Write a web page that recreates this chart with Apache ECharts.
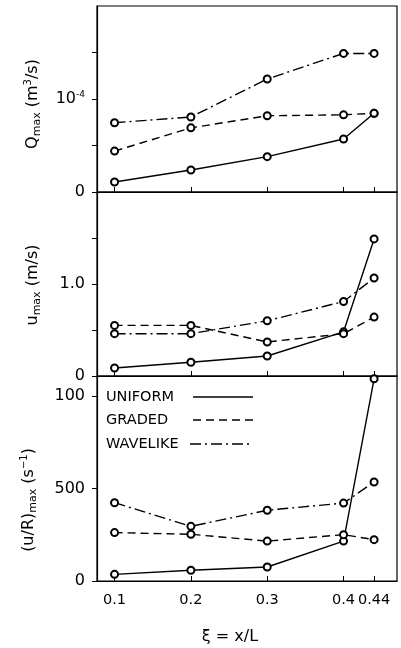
<!DOCTYPE html>
<html>
<head>
<meta charset="utf-8">
<script src="https://cdn.jsdelivr.net/npm/echarts@6/dist/echarts.min.js"></script>
<style>html,body{margin:0;padding:0;background:#fff;}#c{width:401px;height:648px;}</style>
</head>
<body>
<div id="c"></div>
<script>
// x positions xi = x/L
const xi = [0.1, 0.2, 0.3, 0.4, 0.44];
const xTickLabels = ['0.1', '0.2', '0.3', '0.4', '0.44'];

// Q_max (m^3/s)
const qUniform  = [0.107e-4, 0.237e-4, 0.38e-4, 0.57e-4, 0.846e-4];
const qGraded   = [0.44e-4, 0.69e-4, 0.82e-4, 0.83e-4, 0.846e-4];
const qWavelike = [0.745e-4, 0.806e-4, 1.215e-4, 1.49e-4, 1.49e-4];

// u_max (m/s)
const uUniform  = [0.087, 0.15, 0.217, 0.48, 1.49];
const uGraded   = [0.55, 0.55, 0.37, 0.46, 0.64];
const uWavelike = [0.46, 0.46, 0.60, 0.81, 1.065];

// (u/R)_max (1/s)
const rUniform  = [36, 58, 76, 216, 1095];
const rGraded   = [262, 253, 216, 251, 224];
const rWavelike = [424, 296, 383, 422, 536];

// y tick labels
const qTickLabels = [[0, '0'], [1e-4, '{n|10}{s|-4}']];
const uTickLabels = [[0, '0'], [1.0, '1.0']];
const rTickLabels = [[0, '0'], [500, '500'], [1000, '100']];

const seriesNames = ['UNIFORM', 'GRADED', 'WAVELIKE'];
const dashes = ['solid', [8, 5], [11, 4, 2, 4]];

const FONT = 'DejaVu Sans';
const chart = echarts.init(document.getElementById('c'));

const L = 97, R = 4;
const grids = [
  {left: L, right: R, top: 6, height: 186},
  {left: L, right: R, top: 192, height: 184},
  {left: L, right: R, top: 376, height: 205}
];

function labelFmt(list) {
  return function (v) {
    for (const [val, txt] of list) {
      if (Math.abs(v - val) < Math.abs(val) * 1e-6 + 1e-12) return txt;
    }
    return '';
  };
}

const xAxes = grids.map((g, i) => ({
  type: 'value', gridIndex: i, min: 0.077, max: 0.47,
  axisLine: {show: true, onZero: false, lineStyle: {color: '#000', width: 1.2}},
  axisTick: {show: true, inside: true, length: 5, customValues: xi, lineStyle: {color: '#000', width: 1}},
  axisLabel: {show: i === 2, customValues: xi, margin: 12, color: '#000', fontFamily: FONT, fontSize: 14.5,
    formatter: v => { const k = xi.findIndex(t => Math.abs(t - v) < 1e-9); return k >= 0 ? xTickLabels[k] : ''; }},
  splitLine: {show: false}
}));

const yAxes = [
  {max: 2e-4, interval: 0.5e-4, list: qTickLabels},
  {max: 2.0, interval: 0.5, list: uTickLabels},
  {max: 1110, interval: 500, list: rTickLabels}
].map((a, i) => ({
  type: 'value', gridIndex: i, min: 0, max: a.max, interval: a.interval,
  axisLine: {show: true, lineStyle: {color: '#000', width: 1.2}},
  axisTick: {show: true, inside: false, length: 5, lineStyle: {color: '#000', width: 1}},
  axisLabel: {margin: 12, color: '#000', fontFamily: FONT, fontSize: 16, showMaxLabel: false,
    formatter: labelFmt(a.list),
    rich: {n: {fontFamily: FONT, fontSize: 16, color: '#000'}, s: {fontFamily: FONT, fontSize: 9, color: '#000', verticalAlign: 'top', padding: [0, 0, 9, 0]}}},
  splitLine: {show: false}
}));

const panelData = [
  [qUniform, qGraded, qWavelike],
  [uUniform, uGraded, uWavelike],
  [rUniform, rGraded, rWavelike]
];

const series = [];
panelData.forEach((sets, p) => {
  sets.forEach((vals, k) => {
    series.push({
      type: 'line', name: seriesNames[k], xAxisIndex: p, yAxisIndex: p,
      data: xi.map((x, j) => [x, vals[j]]),
      symbol: 'emptyCircle', symbolSize: 7,
      lineStyle: {color: '#000', width: 1.4, type: dashes[k]},
      itemStyle: {color: '#000', borderColor: '#000', borderWidth: 1},
      animation: false, z: 3
    });
  });
});

const richTitle = {
  b: {fontFamily: FONT, fontSize: 16, fill: '#000'},
  sub: {fontFamily: FONT, fontSize: 11, fill: '#000', verticalAlign: 'bottom', padding: [8, 0, 0, 0]},
  sup: {fontFamily: FONT, fontSize: 10, fill: '#000', verticalAlign: 'top', padding: [0, 0, 8, 0]}
};

function yTitle(x, y, text) {
  return {
    type: 'text', x: x, y: y, rotation: Math.PI / 2,
    style: {text: text, fontFamily: FONT, fontSize: 16, fill: '#000', align: 'center', verticalAlign: 'middle', rich: richTitle}
  };
}

const legendY = [397, 420, 444];
const graphic = [
  yTitle(33, 104, '{b|Q}{sub|max}{b| (m}{sup|3}{b|/s)}'),
  yTitle(33, 285, '{b|u}{sub|max}{b| (m/s)}'),
  yTitle(29, 500, '{b|(u/R)}{sub|max}{b| (s}{sup|−1}{b|)}'),
  {type: 'text', x: 230, y: 637, style: {text: 'ξ = x/L', fontFamily: FONT, fontSize: 16, fill: '#000', align: 'center', verticalAlign: 'middle'}}
];
seriesNames.forEach((n, k) => {
  graphic.push({type: 'text', x: 106, y: legendY[k], style: {text: n, fontFamily: FONT, fontSize: 14.5, fill: '#000', align: 'left', verticalAlign: 'middle'}});
  graphic.push({type: 'line', shape: {x1: k === 2 ? 190 : 193, y1: legendY[k], x2: 253, y2: legendY[k]},
    style: {stroke: '#000', lineWidth: 1.5, lineDash: dashes[k] === 'solid' ? null : dashes[k]}});
});

chart.setOption({
  animation: false,
  backgroundColor: '#fff',
  grid: grids.map(g => Object.assign({show: true, borderColor: '#000', borderWidth: 1.2, backgroundColor: 'transparent'}, g)),
  xAxis: xAxes,
  yAxis: yAxes,
  series: series,
  graphic: graphic
});
</script>
</body>
</html>
